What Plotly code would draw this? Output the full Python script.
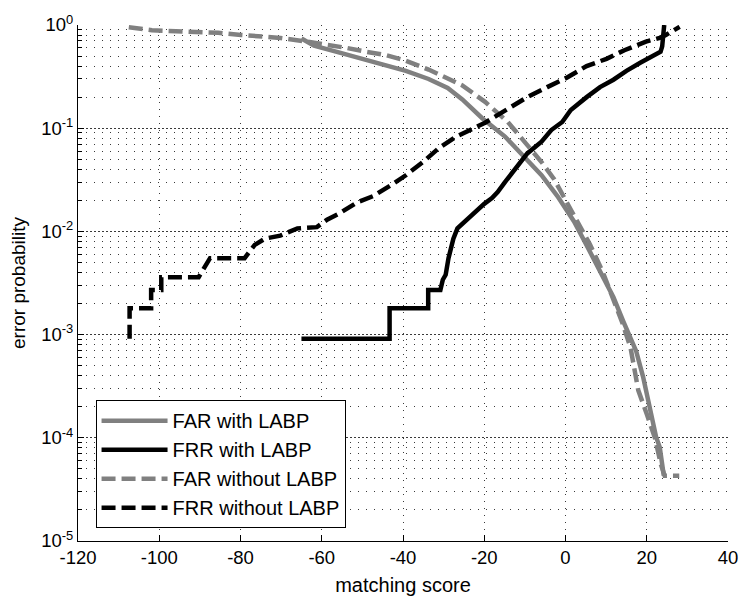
import plotly.graph_objects as go

# ---- data ----
far_labp_x = [-65, -61.9, -55.6, -49, -43.4, -39.3, -33.7, -29, -25.4, -20.5, -14.9, -10.1, -5.9, -2, 2.1, 5,
              9.4, 11.8, 14.2, 15.9, 17.4, 19.1, 20.8, 22.3, 23.2, 24, 24.2]
far_labp_y = [0.74, 0.63, 0.54, 0.46, 0.40, 0.36, 0.30, 0.245, 0.19, 0.125, 0.083, 0.053, 0.035, 0.022, 0.0125,
              0.0076, 0.0035, 0.0023, 0.00135, 0.00093, 0.00069, 0.00039, 0.000186, 0.000102, 0.000081,
              0.000049, 0.000043]

frr_labp_x = [-65, -43.3, -43.3, -33.8, -33.8, -30.8, -30.2, -29.5, -28.8, -28.3, -27.6, -26.6, -24.7, -23,
              -21.5, -20, -18.1, -16.7, -14.9, -12.5, -9.4, -5.9, -3.5, -0.8, 1.3, 5.2, 8.5, 11.8, 15, 18.4,
              21, 23.4, 23.8, 24.2, 24.3]
frr_labp_y = [0.00091, 0.00091, 0.0018, 0.0018, 0.0027, 0.0027, 0.0034, 0.0038, 0.0055, 0.0065, 0.0085,
              0.0107, 0.0125, 0.0148, 0.0166, 0.0185, 0.021, 0.024, 0.030, 0.040, 0.057, 0.074, 0.096, 0.115,
              0.15, 0.20, 0.25, 0.295, 0.36, 0.43, 0.49, 0.55, 0.62, 0.80, 1.0]

far_nolabp_x = [-107.5, -101.8, -95.9, -91, -85.5, -79.9, -75, -70.2, -63.6, -58.7, -53.9, -49, -44.1, -40,
                -33.7, -25.4, -19.8, -14.2, -10.1, -5.9, -2.8, 0.4, 3, 6, 9, 12, 14, 16, 17.9, 20, 22,
                23.5, 24.4, 28]
far_nolabp_y = [0.95, 0.89, 0.87, 0.86, 0.84, 0.80, 0.78, 0.75, 0.69, 0.65, 0.60, 0.55, 0.51, 0.46, 0.37,
                0.26, 0.18, 0.115, 0.074, 0.047, 0.032, 0.019, 0.0125, 0.0075, 0.0042, 0.0021, 0.0013,
                0.00075, 0.00029, 0.00017, 0.0001, 0.000055, 0.000043, 0.000043]

frr_nolabp_x = [-107.3, -107.3, -102, -102, -99.5, -99.5, -90.3, -88.5, -87.5, -79, -76.5, -74, -70.2, -66,
                -61.2, -58.7, -55.6, -51.4, -47.3, -42.4, -39.3, -35.1, -31.2, -27.1, -23, -19.8, -14.9,
                -9.4, -4.5, 0.4, 5.2, 10.1, 14.5, 19.8, 23.2, 24.7, 28.1]
frr_nolabp_y = [0.00091, 0.0018, 0.0018, 0.0027, 0.0027, 0.0036, 0.0036, 0.0046, 0.0055, 0.0055, 0.0074,
                0.0085, 0.0091, 0.0107, 0.011, 0.013, 0.015, 0.019, 0.022, 0.029, 0.035, 0.047, 0.064,
                0.082, 0.098, 0.113, 0.148, 0.20, 0.25, 0.31, 0.40, 0.47, 0.57, 0.69, 0.75, 0.80, 0.96]

x_ticks = [-120, -100, -80, -60, -40, -20, 0, 20, 40]
x_ticklabels = ["-120", "-100", "-80", "-60", "-40", "-20", "0", "20", "40"]
y_ticks = [1e-5, 1e-4, 1e-3, 1e-2, 1e-1, 1]
y_ticklabels = ["10<sup>-5</sup>", "10<sup>-4</sup>", "10<sup>-3</sup>", "10<sup>-2</sup>",
                "10<sup>-1</sup>", "10<sup>0</sup>"]
y_minor = [m * 10.0 ** e for e in range(-5, 0) for m in range(2, 10)]

GRAY = "#808080"
FONT = "Liberation Sans, Arial, sans-serif"
DASH = "14px,6px"
LW = 4.5
GRID = "#3a3a3a"

fig = go.Figure()
fig.add_trace(go.Scatter(x=far_labp_x, y=far_labp_y, mode="lines", name="FAR with LABP",
                         line=dict(color=GRAY, width=LW)))
fig.add_trace(go.Scatter(x=frr_labp_x, y=frr_labp_y, mode="lines", name="FRR with LABP",
                         line=dict(color="black", width=LW)))
fig.add_trace(go.Scatter(x=far_nolabp_x, y=far_nolabp_y, mode="lines", name="FAR without LABP",
                         line=dict(color=GRAY, width=LW, dash=DASH)))
fig.add_trace(go.Scatter(x=frr_nolabp_x, y=frr_nolabp_y, mode="lines", name="FRR without LABP",
                         line=dict(color="black", width=LW, dash=DASH)))

fig.update_layout(
    width=749, height=603,
    margin=dict(l=78, r=11, t=25, b=58),
    paper_bgcolor="white", plot_bgcolor="white",
    font=dict(family=FONT, size=18, color="black"),
    showlegend=True,
    legend=dict(x=0.027, y=0.273, xanchor="left", yanchor="top",
                bgcolor="white", bordercolor="black", borderwidth=1,
                font=dict(size=20, family=FONT), itemwidth=66, tracegroupgap=0),
    xaxis=dict(range=[-120, 40], tickvals=x_ticks, ticktext=x_ticklabels,
               showline=True, linecolor="black", linewidth=1, mirror=False,
               ticks="inside", ticklen=6, tickcolor="black",
               showgrid=True, gridcolor=GRID, gridwidth=1, griddash="1px,6px",
               zeroline=False, tickfont=dict(size=18.5),
               title=dict(text="matching score", font=dict(size=20), standoff=10)),
    yaxis=dict(type="log", range=[-5, 0], tickvals=y_ticks, ticktext=y_ticklabels,
               showline=True, linecolor="black", linewidth=1, mirror=False,
               ticks="inside", ticklen=6, tickcolor="black",
               showgrid=True, gridcolor=GRID, gridwidth=1, griddash="2px,2px",
               zeroline=False, tickfont=dict(size=18.5),
               minor=dict(tickvals=y_minor, ticks="inside", ticklen=4, tickcolor="black",
                          showgrid=True, gridcolor=GRID, gridwidth=1, griddash="1px,7px"),
               title=dict(text="error probability", font=dict(size=19), standoff=10)),
)

fig.write_html("out.html")
